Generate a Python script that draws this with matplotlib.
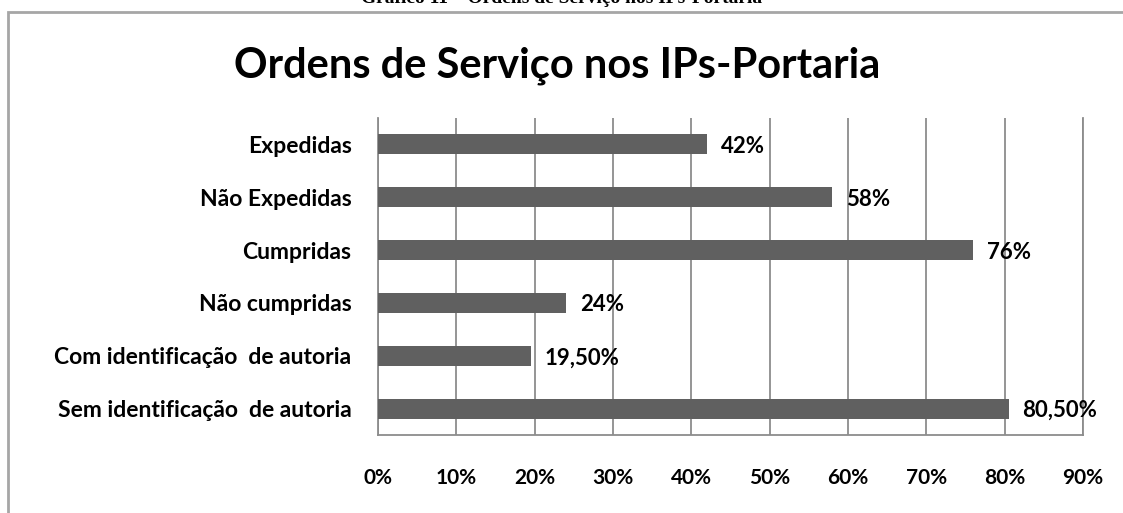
import matplotlib.pyplot as plt
from matplotlib.patches import Rectangle
from matplotlib.ticker import FuncFormatter

# Data
categorias = ["Expedidas", "Não Expedidas", "Cumpridas", "Não cumpridas",
              "Com identificação  de autoria", "Sem identificação  de autoria"]
valores = [42, 58, 76, 24, 19.5, 80.5]
rotulos = ["42%", "58%", "76%", "24%", "19,50%", "80,50%"]
ticks_x = [0, 10, 20, 30, 40, 50, 60, 70, 80, 90]

plt.rcParams['font.family'] = ['Lato', 'DejaVu Sans']

fig = plt.figure(figsize=(11.23, 5.13), dpi=100)
fig.patch.set_facecolor('white')

# outer frame of the chart area
fig.patches.append(Rectangle((8 / 1123, -0.05), 1.2, 1 - 12 / 513 + 0.05,
                             transform=fig.transFigure, fill=False,
                             edgecolor='#a6a6a6', linewidth=2))

# caption at the very top (cut off in the original scan)
fig.text(0.5, 1 - 3 / 513, "Gráfico 11 – Ordens de Serviço nos IPs-Portaria",
         ha='center', va='baseline', fontsize=14, fontweight='bold',
         family='Liberation Serif')

fig.text(0.496, 1 - 66 / 513, "Ordens de Serviço nos IPs-Portaria",
         ha='center', va='center', fontsize=30, fontweight='bold')

ax = fig.add_axes([378 / 1123, 1 - 435 / 513, 705 / 1123, 317 / 513])

y = list(range(len(categorias)))
ax.barh(y, valores, height=0.38, color='#606060', zorder=3)

for yi, v, lab in zip(y, valores, rotulos):
    ax.annotate(lab, (v, yi), xytext=(14, -2), textcoords='offset pixels',
                ha='left', va='center', fontsize=16, fontweight='bold',
                color='black', zorder=4)

ax.set_xlim(0, 90)
ax.set_ylim(len(categorias) - 0.5, -0.5)
ax.set_xticks(ticks_x)
ax.xaxis.set_major_formatter(FuncFormatter(lambda v, p: f"{int(v)}%"))
ax.set_yticks(y)
ax.set_yticklabels(categorias)
ax.tick_params(axis='both', length=0)
ax.tick_params(axis='x', pad=24, labelsize=15)
ax.tick_params(axis='y', pad=19, labelsize=16.5)
for lab in ax.get_xticklabels() + ax.get_yticklabels():
    lab.set_fontweight('bold')

ax.grid(axis='x', color='#8c8c8c', linewidth=1.3, zorder=1)
for s in ['left', 'bottom', 'right']:
    ax.spines[s].set_color('#8c8c8c')
    ax.spines[s].set_linewidth(1.3)
ax.spines['top'].set_visible(False)

fig.savefig('out.png', dpi=100)
